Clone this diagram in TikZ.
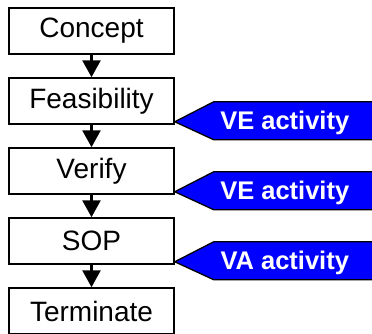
\documentclass[tikz,border=0pt]{standalone}
\usepackage{fontspec}
\setmainfont{Liberation Sans}
\usetikzlibrary{arrows.meta,calc}
\begin{document}
\begin{tikzpicture}[x=1pt,y=-1pt,
  stage/.style={draw=black,line width=1.5pt,fill=white,minimum width=165pt,minimum height=46pt,inner sep=0pt,font=\fontsize{28}{30}\selectfont},
  flow/.style={line width=2.6pt,-{Triangle[width=18pt,length=17pt]}},
  tag/.style={draw=black,line width=1.3pt,fill=blue,line join=miter},
  tagtext/.style={text=white,font=\bfseries\fontsize{25.5}{28}\selectfont,inner sep=0pt,anchor=base}]
\useasboundingbox (0,0) rectangle (372,333);
\node[stage] (concept) at (91.5,31) {Concept};
\node[stage] (feas) at (91.5,101) {Feasibility};
\node[stage] (verify) at (91.5,171) {Verify};
\node[stage] (sop) at (91.5,241) {SOP};
\node[stage] (term) at (91.5,311) {Terminate};
\draw[flow] (concept) -- (feas);
\draw[flow] (feas) -- (verify);
\draw[flow] (verify) -- (sop);
\draw[flow] (sop) -- (term);
\foreach \b/\n/\t in {feas/t1/VE activity,verify/t2/VE activity,sop/t3/VA activity}{
  \draw[tag] ($(\b.south east)+(0,-3)$) coordinate (\n tip) -- ++(39,-20) -- ++(170,0) -- ++(0,38) -- ++(-170,0) -- cycle;
  \node[tagtext] (\n) at ($(\n tip)+(110,8)$) {\t};
}
\end{tikzpicture}
\end{document}
